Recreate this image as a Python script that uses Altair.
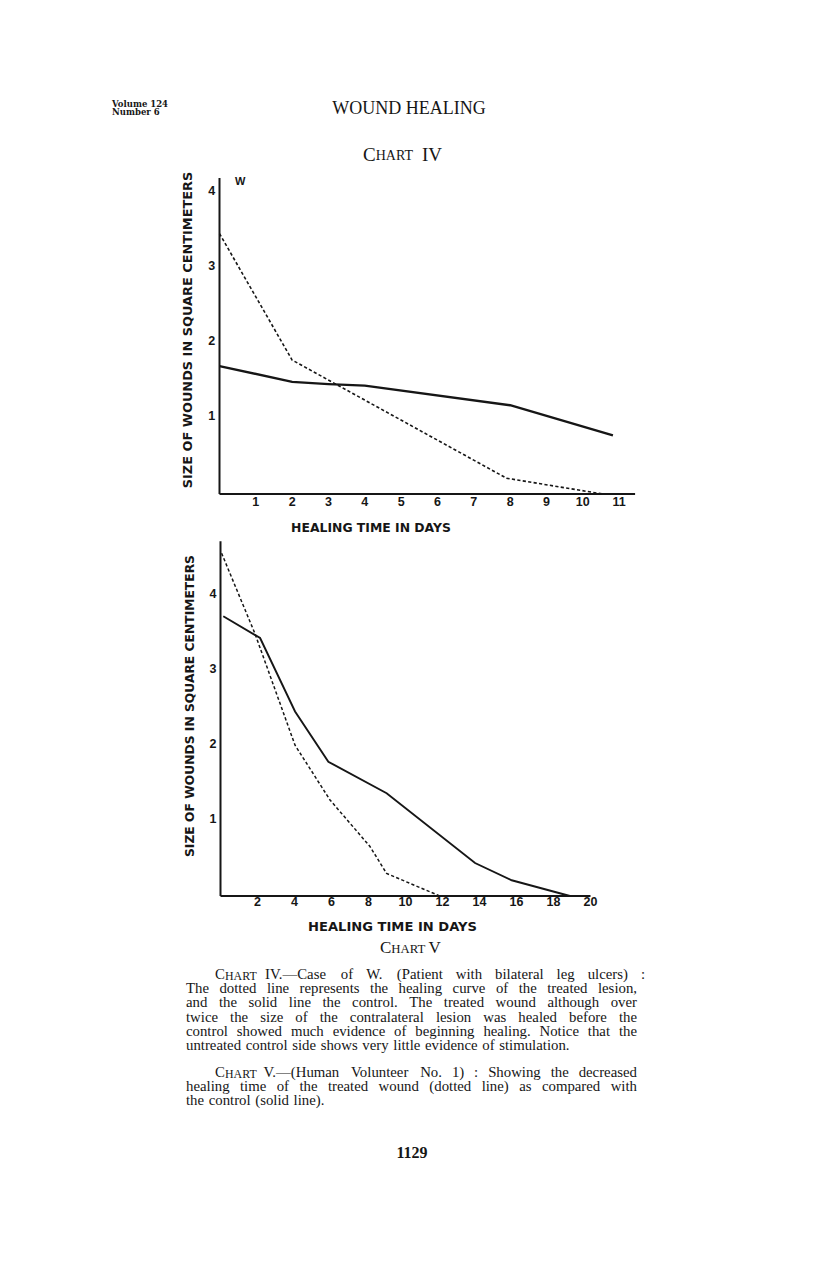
import altair as alt
import pandas as pd

# ---------------- data ----------------
# Chart IV (case W.)  - treated (dotted) and control (solid)
c4_treated_day = [0, 2, 7.9, 10.55]
c4_treated_size = [3.46, 1.78, 0.21, 0.0]
c4_control_day = [0, 2, 3, 4, 8, 10.83]
c4_control_size = [1.70, 1.49, 1.46, 1.44, 1.18, 0.78]
c4_xticks = [1, 2, 3, 4, 5, 6, 7, 8, 9, 10, 11]
c4_yticks = [1, 2, 3, 4]

# Chart V (human volunteer no. 1)
c5_treated_day = [0.06, 1.86, 4.03, 5.92, 8.08, 8.98, 11.86]
c5_treated_size = [4.57, 3.50, 2.01, 1.28, 0.66, 0.30, 0.0]
c5_control_day = [0.15, 2.14, 4.03, 5.83, 8.98, 13.76, 15.74, 18.89]
c5_control_size = [3.73, 3.44, 2.46, 1.79, 1.37, 0.44, 0.21, 0.0]
c5_xticks = [2, 4, 6, 8, 10, 12, 14, 16, 18, 20]
c5_yticks = [1, 2, 3, 4]

header_left = ["Volume 124", "Number 6"]
running_head = "WOUND HEALING"
y_title = "SIZE OF WOUNDS IN SQUARE CENTIMETERS"
x_title = "HEALING TIME IN DAYS"
caption1_first = "IV.\u2014Case of W. (Patient with bilateral leg ulcers) :"
caption1_rest = [
    "The dotted line represents the healing curve of the treated lesion,",
    "and the solid line the control. The treated wound although over",
    "twice the size of the contralateral lesion was healed before the",
    "control showed much evidence of beginning healing. Notice that the",
    "untreated control side shows very little evidence of stimulation.",
]
caption2_first = "V.\u2014(Human Volunteer No. 1) : Showing the decreased"
caption2_rest = [
    "healing time of the treated wound (dotted line) as compared with",
    "the control (solid line).",
]
page_number = "1129"

INK = "#161616"
SERIF = "Liberation Serif"
SANS = "Liberation Sans"
GOTHIC = "DejaVu Sans"
CAP = 14.8  # caption font size
CAP_SC = 11.9  # caption small-caps size
LEAD = 14.2  # caption line spacing

# Times-metric advance widths (per 1000 em), for justifying caption lines
_W = {" ": 250, "(": 333, ")": 333, ",": 250, ".": 250, ":": 278, "\u2014": 1000,
      "1": 500, "A": 722, "C": 667, "H": 722, "I": 333, "N": 722, "P": 556,
      "S": 556, "T": 611, "V": 722, "W": 944,
      "a": 444, "b": 500, "c": 444, "d": 500, "e": 444, "f": 333, "g": 500,
      "h": 500, "i": 278, "j": 278, "k": 500, "l": 278, "m": 778, "n": 500,
      "o": 500, "p": 500, "q": 500, "r": 333, "s": 389, "t": 278, "u": 500,
      "v": 500, "w": 722, "x": 500, "y": 500, "z": 444}


def tw(s, size):
    return sum(_W.get(ch, 500) for ch in s) / 1000.0 * size


def words_rows(line, x0, x1, y, justify):
    ws = line.split(" ")
    nat = sum(tw(w, CAP) for w in ws)
    gap = tw(" ", CAP) * 1.25
    if justify and len(ws) > 1:
        gap = (x1 - x0 - nat) / (len(ws) - 1)
    rows, x = [], x0
    for w in ws:
        rows.append({"x": x, "y": y, "t": w})
        x += tw(w, CAP) + gap
    return rows


def sc(domain, rng):
    return alt.Scale(domain=domain, range=rng, nice=False, zero=False)


ONE = pd.DataFrame({"k": [0]})


def txt(s, x, y, size, font=SERIF, weight="normal", align="left", angle=0):
    kw = dict(font=font, fontSize=size, fontWeight=weight, align=align,
              baseline="middle", color=INK)
    if angle:
        kw["angle"] = angle
    return alt.Chart(ONE).mark_text(**kw).encode(
        x=alt.value(x), y=alt.value(y), text=alt.value(s))


def panel(tr_d, tr_s, co_d, co_s, xt, yt, X, Y, xlab_y, ylab_x, x_end, y_top,
          solid_w, dash_w):
    xe = alt.X("day:Q", scale=X, axis=None)
    ye = alt.Y("size:Q", scale=Y, axis=None)
    tr = alt.Chart(pd.DataFrame({"day": tr_d, "size": tr_s})).mark_line(
        color=INK, strokeWidth=dash_w, strokeDash=[3.2, 2.3]).encode(x=xe, y=ye)
    co = alt.Chart(pd.DataFrame({"day": co_d, "size": co_s})).mark_line(
        color=INK, strokeWidth=solid_w).encode(x=xe, y=ye)
    yax = alt.Chart(pd.DataFrame({"day": [0], "size": [0], "size2": [y_top]})).mark_rule(
        color=INK, strokeWidth=2).encode(x=xe, y=ye, y2="size2:Q")
    xax = alt.Chart(pd.DataFrame({"day": [0], "day2": [x_end], "size": [0]})).mark_rule(
        color=INK, strokeWidth=2).encode(x=xe, x2="day2:Q", y=ye)
    xl = alt.Chart(pd.DataFrame({"day": xt})).mark_text(
        font=SANS, fontSize=12.5, fontWeight="bold", baseline="middle", color=INK).encode(
        x=xe, y=alt.value(xlab_y), text=alt.Text("day:Q", format="d"))
    yl = alt.Chart(pd.DataFrame({"size": yt})).mark_text(
        font=SANS, fontSize=12.5, fontWeight="bold", baseline="middle", color=INK,
        dy=-2.5).encode(x=alt.value(ylab_x), y=ye, text=alt.Text("size:Q", format="d"))
    return alt.layer(yax, xax, tr, co, xl, yl)


# chart coordinates = page coordinates - 8 (page margin)
X4 = sc([0, 11], [211.5, 611.1])
Y4 = sc([0, 4], [486, 185])
X5 = sc([0, 20], [212.5, 582.5])
Y5 = sc([0, 4], [888, 588])

chart4 = panel(c4_treated_day, c4_treated_size, c4_control_day, c4_control_size,
               c4_xticks, c4_yticks, X4, Y4, 493.7, 203.7, 11.44, 4.2, 2.4, 1.6)
chart5 = panel(c5_treated_day, c5_treated_size, c5_control_day, c5_control_size,
               c5_xticks, c5_yticks, X5, Y5, 894, 205, 20, 4.73, 1.9, 1.5)

# caption words, justified between the text margins (chart coordinates)
L, R = 178, 629
rows = []
rows += words_rows(caption1_first, 257, 637, 967, True)
for i, line in enumerate(caption1_rest):
    rows += words_rows(line, L, R, 967 + (i + 1) * LEAD, i < len(caption1_rest) - 1)
rows += words_rows(caption2_first, 255.5, R, 1065, True)
for i, line in enumerate(caption2_rest):
    rows += words_rows(line, L, R, 1065 + (i + 1) * LEAD, i < len(caption2_rest) - 1)
cap_df = pd.DataFrame(rows)
caption = alt.Chart(cap_df).mark_text(
    font=SERIF, fontSize=CAP, align="left", baseline="middle", color=INK).encode(
    x=alt.X("x:Q", scale=sc([0, 800], [0, 800]), axis=None),
    y=alt.Y("y:Q", scale=sc([0, 1250], [0, 1250]), axis=None),
    text="t:N")

texts = [
    txt(header_left[0], 104, 95.5, 8.5, font="DejaVu Serif", weight="bold"),
    txt(header_left[1], 104, 104, 8.5, font="DejaVu Serif", weight="bold"),
    txt(running_head, 401, 100.5, 18, align="center"),
    # CHART IV (small caps)
    txt("C", 355, 147, 19),
    txt("HART", 367.7, 147.8, 14),
    txt("IV", 414, 147, 19),
    txt("W", 227, 173.5, 11, font=SANS, weight="bold"),
    txt(y_title, 180, 322, 12.9, font=GOTHIC, weight="bold", align="center", angle=270),
    txt(x_title, 363, 520, 12.4, font=GOTHIC, weight="bold", align="center"),
    txt(y_title, 182, 698, 12.3, font=GOTHIC, weight="bold", align="center", angle=270),
    txt(x_title, 384.5, 919, 13.1, font=GOTHIC, weight="bold", align="center"),
    # CHART V (small caps)
    txt("C", 372, 940, 17),
    txt("HART", 383.3, 940.7, 12.8),
    txt("V", 420.5, 940, 17),
    # small-caps heads of the captions
    txt("C", 207, 967, CAP),
    txt("HART", 217.0, 967.6, CAP_SC),
    txt("C", 207, 1065, CAP),
    txt("HART", 217.0, 1065.6, CAP_SC),
    txt(page_number, 404, 1145, 16, weight="bold", align="center"),
]

chart = alt.layer(chart4, chart5, caption, *texts).resolve_scale(
    x="independent", y="independent"
).properties(
    width=800, height=1250, padding=0,
    autosize=alt.AutoSizeParams(type="none"),
    background="white",
).configure_view(stroke=None)

chart.save("out.html", embed_options={"renderer": "svg", "actions": False})
